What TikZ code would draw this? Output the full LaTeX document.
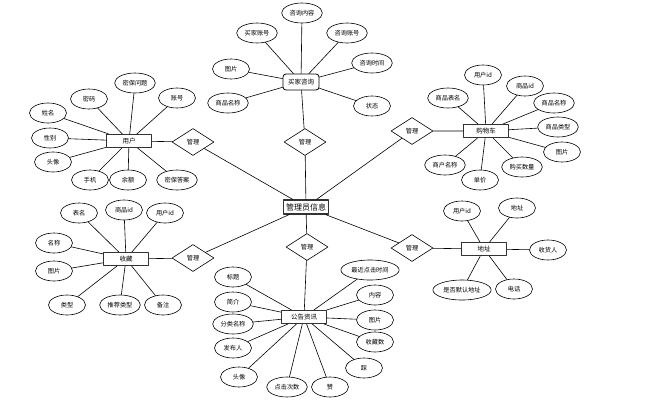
\documentclass[tikz,border=0pt]{standalone}
\usepackage{fontspec}
\newfontfamily\cjk{Noto Sans CJK SC}
\usetikzlibrary{shapes.geometric}

\tikzset{
  attr/.style={draw, ellipse, line width=0.6pt, minimum width=37pt, minimum height=20pt,
    inner sep=2pt, font=\cjk\fontsize{6.2}{6.2}\selectfont},
  entity/.style={draw, line width=1.1pt, draw=black!80, minimum width=45pt, minimum height=13pt,
    inner sep=1pt, font=\cjk\fontsize{6.5}{6.5}\selectfont},
  rel/.style={draw, diamond, line width=0.6pt, minimum width=42pt, minimum height=27pt,
    inner sep=0pt, font=\cjk\fontsize{6.2}{6.2}\selectfont},
  link/.style={line width=0.6pt}
}

\begin{document}
\begin{tikzpicture}[x=1pt, y=-1pt, line join=round, line cap=round]
      \useasboundingbox (0,0) rectangle (671,402);

      % Center
      \node[entity, minimum height=14pt, font=\cjk\fontsize{8}{8}\selectfont] (M) at (306,207) {管理员信息};

      % Relations
      \node[rel] (R0) at (305,142) {管理};
      \node[rel] (R1) at (193,142) {管理};
      \node[rel] (R2) at (193,258) {管理};
      \node[rel] (R3) at (412,131) {管理};
      \node[rel] (R4) at (412,248) {管理};
      \node[rel] (R5) at (307,247) {管理};

      % Entities
      \node[entity, rounded corners=3pt, line width=0.8pt, draw=black, minimum width=36pt,
        minimum height=16pt] (Q) at (301,82) {买家咨询};
      \node[entity] (U) at (129,141) {用户};
      \node[entity] (C) at (486,131) {购物车};
      \node[entity] (F) at (126,259) {收藏};
      \node[entity] (D) at (484,249) {地址};
      \node[entity] (N) at (304,317) {公告资讯};

      \draw[link] (Q) -- (R0) -- (M);
      \draw[link] (U) -- (R1) -- (M);
      \draw[link] (F) -- (R2) -- (M);
      \draw[link] (C) -- (R3) -- (M);
      \draw[link] (D) -- (R4) -- (M);
      \draw[link] (M) -- (R5) -- (N);

      % 买家咨询
      \node[attr] (Q1) at (302,13) {咨询内容};
      \node[attr] (Q2) at (257,33) {买家账号};
      \node[attr] (Q3) at (347,33) {咨询账号};
      \node[attr] (Q4) at (231,69) {图片};
      \node[attr] (Q5) at (372,63) {咨询时间};
      \node[attr] (Q6) at (228,103) {商品名称};
      \node[attr] (Q7) at (372,106) {状态};
      \draw[link] (Q1) -- (Q);
      \draw[link] (Q2) -- (Q);
      \draw[link] (Q3) -- (Q);
      \draw[link] (Q4) -- (Q);
      \draw[link] (Q5) -- (Q);
      \draw[link] (Q6) -- (Q);
      \draw[link] (Q7) -- (Q);

      % 用户
      \node[attr] (U1) at (48,113) {姓名};
      \node[attr] (U2) at (89,99) {密码};
      \node[attr] (U3) at (135,83) {密保问题};
      \node[attr] (U4) at (177,98) {账号};
      \node[attr] (U5) at (50,138) {性别};
      \node[attr] (U6) at (53,162) {头像};
      \node[attr] (U7) at (90,180) {手机};
      \node[attr] (U8) at (128,180) {余额};
      \node[attr] (U9) at (177,180) {密保答案};
      \draw[link] (U1) -- (U);
      \draw[link] (U2) -- (U);
      \draw[link] (U3) -- (U);
      \draw[link] (U4) -- (U);
      \draw[link] (U5) -- (U);
      \draw[link] (U6) -- (U);
      \draw[link] (U7) -- (U);
      \draw[link] (U8) -- (U);
      \draw[link] (U9) -- (U);

      % 购物车
      \node[attr] (C1) at (483,75) {用户id};
      \node[attr] (C2) at (525,86) {商品id};
      \node[attr] (C3) at (554,103) {商品名称};
      \node[attr] (C4) at (558,127) {商品类型};
      \node[attr] (C5) at (562,152) {图片};
      \node[attr] (C6) at (522,167) {购买数量};
      \node[attr] (C7) at (480,180) {单价};
      \node[attr] (C8) at (445,165) {商户名称};
      \node[attr] (C9) at (448,98) {商品表名};
      \draw[link] (C1) -- (C);
      \draw[link] (C2) -- (C);
      \draw[link] (C3) -- (C);
      \draw[link] (C4) -- (C);
      \draw[link] (C5) -- (C);
      \draw[link] (C6) -- (C);
      \draw[link] (C7) -- (C);
      \draw[link] (C8) -- (C);
      \draw[link] (C9) -- (C);

      % 收藏
      \node[attr] (F1) at (79,213) {表名};
      \node[attr] (F2) at (124,210) {商品id};
      \node[attr] (F3) at (165,213) {用户id};
      \node[attr] (F4) at (54,243) {名称};
      \node[attr] (F5) at (54,271) {图片};
      \node[attr] (F6) at (67,305) {类型};
      \node[attr] (F7) at (120,305) {推荐类型};
      \node[attr] (F8) at (163,305) {备注};
      \draw[link] (F1) -- (F);
      \draw[link] (F2) -- (F);
      \draw[link] (F3) -- (F);
      \draw[link] (F4) -- (F);
      \draw[link] (F5) -- (F);
      \draw[link] (F6) -- (F);
      \draw[link] (F7) -- (F);
      \draw[link] (F8) -- (F);

      % 地址
      \node[attr] (D1) at (462,211) {用户id};
      \node[attr] (D2) at (517,208) {地址};
      \node[attr] (D3) at (548,250) {收货人};
      \node[attr] (D4) at (462,290) {是否默认地址};
      \node[attr] (D5) at (514,289) {电话};
      \draw[link] (D1) -- (D);
      \draw[link] (D2) -- (D);
      \draw[link] (D3) -- (D);
      \draw[link] (D4) -- (D);
      \draw[link] (D5) -- (D);

      % 公告资讯
      \node[attr] (N1) at (233,277) {标题};
      \node[attr] (N2) at (233,302) {简介};
      \node[attr] (N3) at (233,324) {分类名称};
      \node[attr] (N4) at (233,348) {发布人};
      \node[attr] (N5) at (239,377) {头像};
      \node[attr] (N6) at (287,387) {点击次数};
      \node[attr] (N7) at (330,387) {赞};
      \node[attr] (N8) at (364,368) {踩};
      \node[attr] (N9) at (375,342) {收藏数};
      \node[attr] (N10) at (375,320) {图片};
      \node[attr] (N11) at (375,295) {内容};
      \node[attr] (N12) at (370,270) {最近点击时间};
      \draw[link] (N1) -- (N);
      \draw[link] (N2) -- (N);
      \draw[link] (N3) -- (N);
      \draw[link] (N4) -- (N);
      \draw[link] (N5) -- (N);
      \draw[link] (N6) -- (N);
      \draw[link] (N7) -- (N);
      \draw[link] (N8) -- (N);
      \draw[link] (N9) -- (N);
      \draw[link] (N10) -- (N);
      \draw[link] (N11) -- (N);
      \draw[link] (N12) -- (N);

    \end{tikzpicture}
\end{document}
